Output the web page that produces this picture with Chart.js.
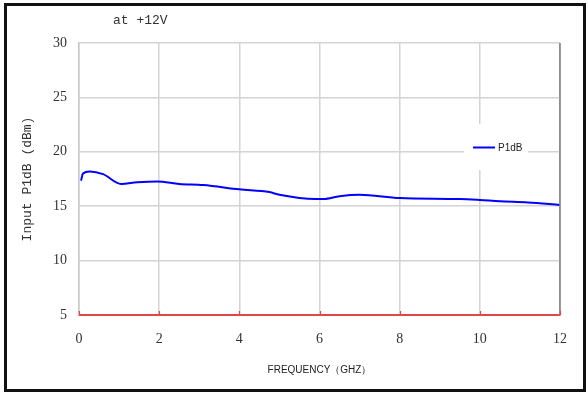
<!DOCTYPE html>
<html>
<head>
<meta charset="utf-8">
<script src="https://cdn.jsdelivr.net/npm/chart.js@4/dist/chart.umd.min.js"></script>
<style>
  html, body { margin: 0; padding: 0; background: #fff; }
  #wrap { width: 588px; height: 394px; position: relative; }
</style>
</head>
<body>
<div id="wrap"><canvas id="c" width="588" height="394"></canvas></div>
<script>
// Input P1dB versus frequency, measured at +12V
const freqGHz = [0.05, 0.1, 0.27, 0.6, 1.05, 1.45, 1.95, 2.5, 3.1, 4.0, 4.75, 5.0, 5.9, 6.1, 6.5, 7.0, 8.0, 9.5, 10.0, 10.5, 11.2, 12.0];
const p1dB    = [17.35, 18.0, 18.2, 17.95, 17.05, 17.2, 17.28, 17.05, 16.95, 16.55, 16.3, 16.05, 15.66, 15.66, 15.92, 16.05, 15.75, 15.66, 15.57, 15.45, 15.35, 15.12];
const xTicks  = [0, 2, 4, 6, 8, 10, 12];
const yTicks  = [5, 10, 15, 20, 25, 30];
const seriesName = 'P1dB';
const conditionText = 'at +12V';

const points = freqGHz.map((f, i) => ({ x: f, y: p1dB[i] }));

const axisRed = '#e04848';

// frame, caption, plot border, axis tick marks and legend box
const decorations = {
  id: 'decorations',
  beforeDraw(chart) {
    const ctx = chart.ctx;
    ctx.save();
    ctx.fillStyle = '#fff';
    ctx.fillRect(0, 0, chart.width, chart.height);
    ctx.restore();
  },
  afterDraw(chart) {
    const ctx = chart.ctx;
    const a = chart.chartArea;
    const xs = chart.scales.x;
    ctx.save();
    // right edge of plot
    ctx.strokeStyle = '#8c8c8c';
    ctx.lineWidth = 1.5;
    ctx.beginPath();
    ctx.moveTo(a.right, a.top);
    ctx.lineTo(a.right, a.bottom);
    ctx.stroke();
    // short inward tick marks on the x axis
    ctx.strokeStyle = axisRed;
    ctx.lineWidth = 1.2;
    ctx.beginPath();
    xTicks.forEach(v => {
      const px = Math.round(xs.getPixelForValue(v)) + 0.5;
      ctx.moveTo(px, a.bottom);
      ctx.lineTo(px, a.bottom - 4);
    });
    ctx.stroke();
    // outer frame
    ctx.strokeStyle = '#111';
    ctx.lineWidth = 3;
    ctx.strokeRect(5.5, 4.5, 579, 386);
    // caption
    ctx.fillStyle = '#333';
    ctx.font = '13px "Liberation Mono", monospace';
    ctx.textBaseline = 'middle';
    ctx.textAlign = 'left';
    ctx.fillText(conditionText, 113, 21);
    // legend
    ctx.fillStyle = '#fff';
    ctx.fillRect(464, 124, 64, 46);
    ctx.strokeStyle = '#0000ff';
    ctx.lineWidth = 2;
    ctx.beginPath();
    ctx.moveTo(473, 147.5);
    ctx.lineTo(495, 147.5);
    ctx.stroke();
    ctx.fillStyle = '#222';
    ctx.font = '10px "Liberation Sans", Arial, sans-serif';
    ctx.fillText(seriesName, 498, 148);
    ctx.restore();
  }
};

new Chart(document.getElementById('c'), {
  type: 'line',
  data: {
    datasets: [{
      label: seriesName,
      data: points,
      borderColor: '#0000ff',
      borderWidth: 2,
      pointRadius: 0,
      fill: false,
      cubicInterpolationMode: 'monotone'
    }]
  },
  options: {
    responsive: false,
    animation: false,
    devicePixelRatio: 1,
    layout: { padding: { top: 43, right: 28, bottom: 0, left: 0 } },
    plugins: { legend: { display: false }, tooltip: { enabled: false } },
    scales: {
      x: {
        type: 'linear',
        min: 0, max: 12,
        afterBuildTicks(scale) { scale.ticks = xTicks.map(v => ({ value: v })); },
        afterFit(scale) { scale.height = 79; },
        grid: {
          color: ctx => (ctx.tick && ctx.tick.value === 12) ? '#8c8c8c' : '#d4d4d4',
          lineWidth: 1.5,
          drawTicks: false
        },
        border: { color: axisRed, width: 2 },
        ticks: {
          padding: 16,
          color: '#333',
          font: { family: '"Liberation Serif", serif', size: 14 }
        },
        title: {
          display: true,
          text: 'FREQUENCY（GHZ）',
          color: '#222',
          font: { family: '"Liberation Sans", Arial, sans-serif', size: 10 },
          padding: { top: 0, bottom: 18 }
        }
      },
      y: {
        min: 5, max: 30,
        afterBuildTicks(scale) { scale.ticks = yTicks.map(v => ({ value: v })); },
        afterFit(scale) { scale.width = 79; },
        grid: { color: '#d4d4d4', lineWidth: 1.5, drawTicks: false },
        border: { color: '#c8c8c8', width: 1.5 },
        ticks: {
          padding: 12,
          color: '#333',
          font: { family: '"Liberation Serif", serif', size: 14 }
        },
        title: {
          display: true,
          text: 'Input P1dB (dBm)',
          color: '#333',
          font: { family: '"Liberation Mono", monospace', size: 13 },
          padding: { top: 20, bottom: 0 }
        }
      }
    }
  },
  plugins: [decorations]
});
</script>
</body>
</html>
